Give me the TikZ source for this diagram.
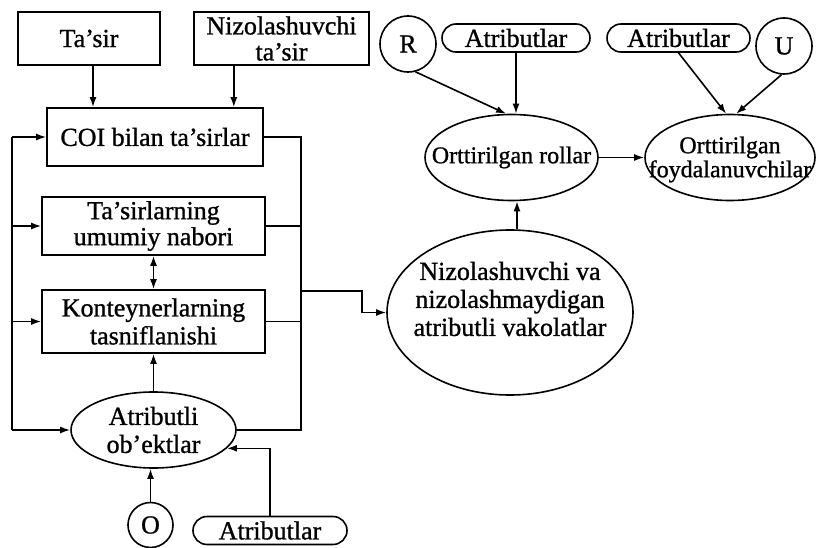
\documentclass[tikz,border=0pt]{standalone}
\usepackage{fontspec}
\setmainfont{Liberation Serif}[FakeBold=1.0]
\usetikzlibrary{shapes.geometric,arrows.meta,calc}
\begin{document}
\begin{tikzpicture}[x=1pt,y=-1pt,
  every node/.style={font=\fontsize{26}{28}\selectfont, inner sep=0pt, align=center},
  small/.style={font=\fontsize{24}{27}\selectfont},
  box/.style={draw, line width=1.6pt, rectangle},
  oval/.style={draw, line width=1.6pt, ellipse},
  letter/.style={draw, line width=1.6pt, circle},
  pill/.style={draw, line width=1.6pt, rectangle, rounded corners=14pt, minimum height=28pt},
  link/.style={line width=1.6pt},
  arr/.style={link, -{Latex[length=10pt,width=7pt]}},
  twoarr/.style={link, {Latex[length=10pt,width=7pt]}-{Latex[length=10pt,width=7pt]}}
]
\useasboundingbox (0,0) rectangle (816,548);

% left column: boxes
\node[box, minimum width=142pt, minimum height=53pt] (tasir) at (89,38.5) {Ta’sir};
\node[box, minimum width=175pt, minimum height=53pt] (niz) at (281.5,38.5) {Nizolashuvchi\\[-2pt]ta’sir};
\node[box, minimum width=216pt, minimum height=58pt] (coi) at (155,137) {COI bilan ta’sirlar};
\node[box, minimum width=223pt, minimum height=58pt] (umumiy) at (153.5,226) {Ta’sirlarning\\[-2pt]umumiy nabori};
\node[box, minimum width=223pt, minimum height=63pt] (kont) at (153.5,321.5) {Konteynerlarning\\tasniflanishi};
\node[oval, minimum width=165pt, minimum height=76pt] (obj) at (153.5,430) {};
\node (objT) at (obj) {Atributli\\ob’ektlar};
\node[letter, minimum size=45pt] (O) at (150.5,525) {O};
\node[pill, minimum width=154pt] (attrB) at (270,530.5) {Atributlar};

% right part
\node[letter, minimum size=56pt] (R) at (408,44) {R};
\node[pill, minimum width=148pt] (attr1) at (516,38) {Atributlar};
\node[pill, minimum width=143pt] (attr2) at (678.5,38) {Atributlar};
\node[letter, minimum size=56pt] (U) at (784,46) {U};
\node[oval, minimum width=173pt, minimum height=86pt] (rollar) at (511.5,157.5) {};
\node[small] (rollarT) at (rollar) {Orttirilgan rollar};
\node[oval, minimum width=170pt, minimum height=86pt] (foyd) at (730,157.5) {};
\node[small] (foydT) at (730,159.5) {Orttirilgan\\[-3pt]foydalanuvchilar};
\node[oval, minimum width=246pt, minimum height=165pt] (big) at (510,312.5) {};
\node (bigT) at (510,299) {Nizolashuvchi va\\nizolashmaydigan\\atributli vakolatlar};

% bus lines and branch points
\coordinate (lbus) at (12,0);
\coordinate (rbus) at (301,0);
\coordinate (tap) at (301,291);
\coordinate (tasout) at ($(tasir.south)+(4,0)$);
\coordinate (nizout) at ($(niz.south west)!0.23!(niz.south east)$);

% inputs of the top box
\draw[arr] (tasout) -- (tasout |- coi.north);
\draw[arr] (nizout) -- (nizout |- coi.north);

% left feedback bus
\draw[link] (coi.west -| lbus) -- (obj.west -| lbus);
\draw[arr] (coi.west -| lbus) -- (coi.west);
\draw[arr] (umumiy.west -| lbus) -- (umumiy.west);
\draw[arr] (kont.west -| lbus) -- (kont.west);
\draw[arr] (obj.west -| lbus) -- (obj.west);

% right collecting bus
\draw[link] (coi.east) -- (coi.east -| rbus) -- (obj.east -| rbus) -- (obj.east);
\draw[link] (umumiy.east) -- (umumiy.east -| rbus);
\draw[link] (kont.east) -- (kont.east -| rbus);
\draw[arr] (tap) -- ++(61,0) |- (big.west);

% vertical links in the left column
\draw[twoarr] (umumiy.south) -- (kont.north);
\draw[arr] (obj.north) -- (kont.south);
\draw[arr] (O.north) -- (O.north |- obj.south);
\draw[arr] (attrB.north) |- (obj.-14);

% upper right links
\draw[arr] (R.-75) -- (rollar.97);
\draw[arr] (attr1.south) -- (attr1.south |- rollar.north);
\draw[arr] (attr2.south) -- (foyd.95);
\draw[arr] (U.-95) -- (foyd.82);
\draw[arr] (rollar.east) -- (foyd.west);
\draw[arr] ($(big.north)+(7,0)$) -- ($(rollar.south)+(5.5,0)$);
\end{tikzpicture}
\end{document}
